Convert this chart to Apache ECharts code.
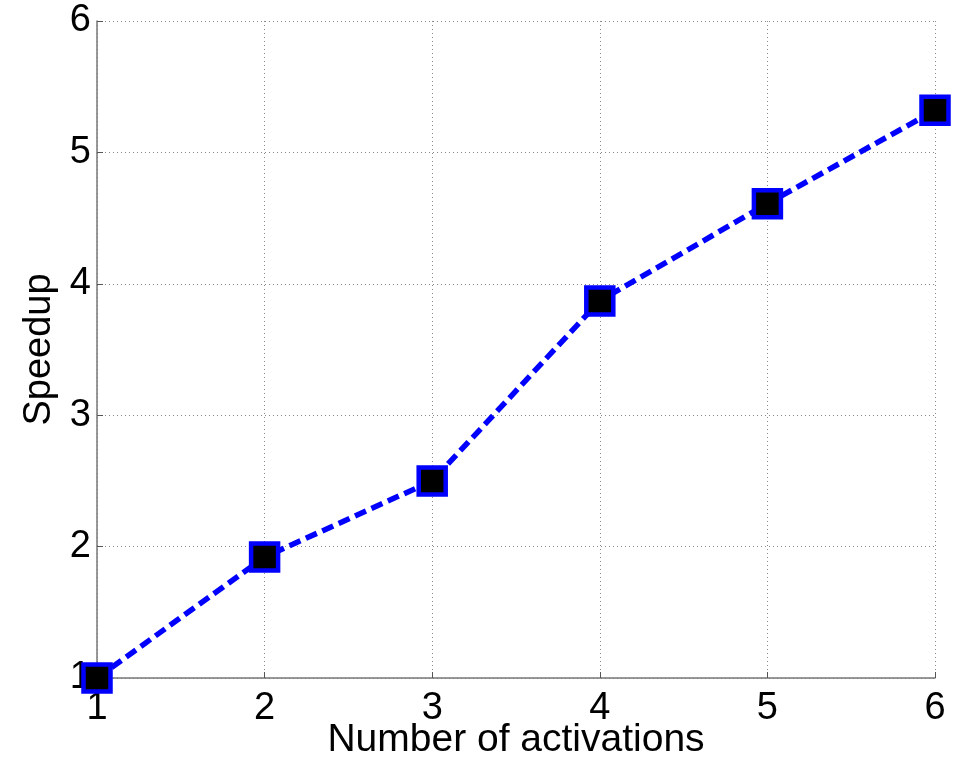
<!DOCTYPE html>
<html><head><meta charset="utf-8">
<script src="https://cdn.jsdelivr.net/npm/echarts@6/dist/echarts.min.js"></script>
<style>html,body{margin:0;padding:0;background:#fff}#c{width:966px;height:764px}</style>
</head><body><div id="c"></div>
<script>
const activations = [1, 2, 3, 4, 5, 6];
const speedup = [1.0, 1.92, 2.5, 3.87, 4.61, 5.32];
const xTicks = [1, 2, 3, 4, 5, 6];
const yTicks = [1, 2, 3, 4, 5, 6];

const chart = echarts.init(document.getElementById('c'));
const font = 'Liberation Sans, Arial, sans-serif';
chart.setOption({
  animation: false,
  backgroundColor: '#fff',
  grid: { left: 97, right: 31, top: 21, bottom: 86, containLabel: false, outerBoundsMode: 'none' },
  xAxis: {
    type: 'value', min: xTicks[0], max: xTicks[xTicks.length-1], interval: 1,
    name: 'Number of activations', nameLocation: 'middle', nameGap: 43, nameMoveOverlap: false,
    nameTextStyle: { fontFamily: font, fontSize: 39, color: '#000' },
    axisLine: { lineStyle: { color: '#777', width: 1.5 } },
    axisTick: { inside: true, length: 6, lineStyle: { color: '#555' } },
    axisLabel: { fontFamily: font, fontSize: 38, color: '#000', margin: 12 },
    splitLine: { show: true, lineStyle: { type: [1, 3], color: '#888', width: 1 } }
  },
  yAxis: {
    type: 'value', min: yTicks[0], max: yTicks[yTicks.length-1], interval: 1,
    name: 'Speedup', nameLocation: 'middle', nameGap: 38, nameMoveOverlap: false,
    nameTextStyle: { fontFamily: font, fontSize: 38, color: '#000' },
    axisLine: { show: true, lineStyle: { color: '#777', width: 1.5 } },
    axisTick: { show: true, inside: true, length: 6, lineStyle: { color: '#555' } },
    axisLabel: { fontFamily: font, fontSize: 38, color: '#000', margin: 6 },
    splitLine: { show: true, lineStyle: { type: [1, 3], color: '#888', width: 1 } }
  },
  series: [{
    type: 'line',
    data: activations.map((a, i) => [a, speedup[i]]),
    symbol: 'rect', symbolSize: 27,
    itemStyle: { color: '#000', borderColor: '#0000ff', borderWidth: 4.5 },
    lineStyle: { color: '#0000ff', width: 5.5, type: [12, 6] },
    clip: false, z: 5
  }]
});
</script></body></html>
